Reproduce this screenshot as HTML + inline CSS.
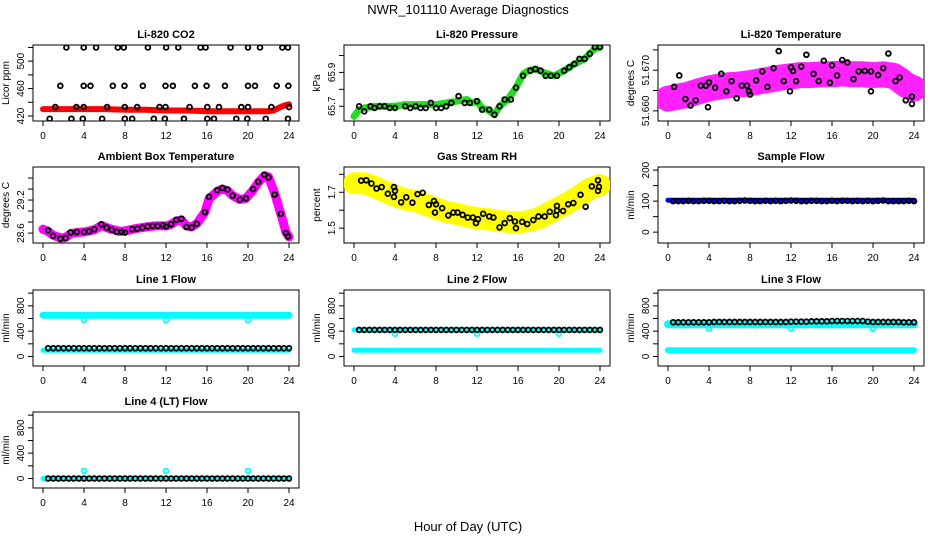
<!DOCTYPE html>
<html><head><meta charset="utf-8">
<style>
body{margin:0;background:#fff;}
svg{display:block;font-family:"Liberation Sans",Arial,sans-serif;}
</style></head>
<body>
<svg id="chart" width="936" height="540" viewBox="0 0 936 540" xmlns="http://www.w3.org/2000/svg">
<rect width="936" height="540" fill="#fff"/>
<text x="468" y="14" font-size="13" text-anchor="middle">NWR_101110  Average Diagnostics</text>
<text x="468" y="531" font-size="13" text-anchor="middle">Hour of Day (UTC)</text>
</svg>
<script>
// ---------- data ----------
const xTicks = [0,4,8,12,16,20,24];
const halfHours = [0.5,1,1.5,2,2.5,3,3.5,4,4.5,5,5.5,6,6.5,7,7.5,8,8.5,9,9.5,10,10.5,11,11.5,12,12.5,13,13.5,14,14.5,15,15.5,16,16.5,17,17.5,18,18.5,19,19.5,20,20.5,21,21.5,22,22.5,23,23.5,24];

// CO2
const co2Hours520 = [2.28,3.97,5.18,7.3,7.88,10.23,12.02,13.2,15.37,15.86,18.3,20.0,21.17,23.35,23.9];
const co2Hours464 = [1.69,3.97,4.63,6.81,7.95,9.74,11.95,12.67,14.82,15.96,17.75,20.0,20.68,22.8,23.94];
const co2Hours433 = [1.2,3.26,3.97,6.25,7.98,9.19,11.37,11.95,14.3,16.03,17.17,19.35,20.0,22.28,24.0];
const co2Hours416 = [0.65,2.77,3.88,5.77,7.98,8.7,10.81,11.89,13.75,16.03,16.68,18.86,19.93,21.73,23.9];
const co2Levels = [520,464,433,416];
const co2BandHours = [0,2,4,6,8,10,12,14,16,18,20,22,22.5,23,23.5,24];
const co2BandVals = [430,430,430,430,429,429,428,428,427,427,427,427,428,432,435,437];

// Pressure
const presHours = [0.5,1,1.6,2,2.5,3,3.5,4,5,5.5,6,6.5,7,7.5,8,8.5,9,9.5,10.2,10.8,11.3,12,12.5,13.2,13.7,14.2,14.7,15.3,15.8,16.5,17.2,17.7,18.2,18.7,19.2,19.8,20.5,21,21.5,22,22.5,23,23.5,24];
const presVals = [65.70,65.67,65.70,65.69,65.70,65.70,65.69,65.69,65.70,65.69,65.70,65.69,65.69,65.72,65.69,65.69,65.70,65.72,65.76,65.72,65.72,65.73,65.68,65.68,65.65,65.70,65.74,65.74,65.81,65.88,65.91,65.92,65.91,65.88,65.88,65.88,65.91,65.93,65.95,65.98,65.98,66.01,66.05,66.05];
const presBandHours = [0,0.5,1,2,3,4,5,6,7,8,9,10,11,11.5,12,12.5,13,13.7,14.2,15,15.8,16.5,17,17.7,18.5,19.5,20.5,21.5,22.5,23.5,24];
const presBandVals = [65.64,65.68,65.69,65.70,65.70,65.70,65.71,65.71,65.71,65.71,65.72,65.73,65.74,65.72,65.73,65.69,65.68,65.65,65.70,65.74,65.81,65.89,65.91,65.92,65.90,65.88,65.91,65.95,65.98,66.04,66.05];

// Li-820 temperature
const tempHours = [0.6,1.1,1.7,2.2,2.7,3.2,3.7,3.9,4,4.6,5.2,5.7,6.2,6.7,7.2,7.7,7.9,8,8.6,9.2,9.7,10.3,10.8,11.3,11.9,12,12.2,12.5,13,13.5,14.2,14.7,15.2,15.8,16,16.5,17,17.5,18.1,18.6,19.2,19.8,19.8,20.5,21,21.5,22.2,22.6,23.2,23.8,23.8];
const tempVals = [51.6659,51.6687,51.6629,51.6613,51.6626,51.6662,51.6662,51.6609,51.6670,51.6657,51.6691,51.6648,51.6673,51.6631,51.6662,51.6662,51.6648,51.6640,51.6675,51.6697,51.6659,51.6705,51.6747,51.6673,51.6648,51.6707,51.6698,51.6673,51.6709,51.6738,51.6691,51.6673,51.6723,51.6669,51.6712,51.6687,51.6725,51.6719,51.6678,51.6697,51.6698,51.6697,51.6648,51.6688,51.6705,51.6741,51.6673,51.6682,51.6626,51.6635,51.6617];
const tempBandHours = [0,1,2,3,4,5,6,7,8,9,10,11,12,13,14,15,16,17,18,19,20,21,22,22.5,23,23.5,24];
const tempBandVals = [51.6630,51.6635,51.6640,51.6648,51.6655,51.6660,51.6663,51.6665,51.6668,51.6673,51.6677,51.6682,51.6685,51.6688,51.6688,51.6690,51.6690,51.6692,51.6690,51.6690,51.6688,51.6690,51.6686,51.6678,51.6668,51.6660,51.6655];

// Ambient box temperature
const ambHours = [0.5,1,1.7,2.2,2.7,3.3,4,4.5,5,5.7,6.2,6.7,7.2,7.7,8,8.7,9.2,9.7,10.2,10.7,11.2,11.7,12,12.5,13,13.5,14,14.5,15,15.8,16.2,17,17.5,18,18.5,19.2,19.8,20.5,21,21.6,22,22.6,23.2,23.7,23.9];
const ambVals = [28.65,28.55,28.50,28.51,28.61,28.62,28.62,28.63,28.67,28.76,28.70,28.66,28.62,28.62,28.61,28.67,28.68,28.70,28.72,28.73,28.73,28.74,28.72,28.76,28.84,28.86,28.71,28.70,28.77,28.98,29.26,29.38,29.42,29.39,29.28,29.21,29.23,29.40,29.53,29.66,29.61,29.30,28.95,28.60,28.54];
const ambBandHours = [0,0.5,1,1.7,2.2,2.7,3.3,4,5,5.7,6.5,7.5,8,9,10,11,12,12.5,13,13.5,14,14.5,15,15.8,16.2,17,17.5,18,18.5,19.2,19.8,20.5,21,21.6,22,22.6,23.2,23.7,24];
const ambBandVals = [28.67,28.63,28.56,28.51,28.52,28.59,28.61,28.62,28.66,28.74,28.68,28.63,28.64,28.68,28.71,28.73,28.73,28.76,28.82,28.84,28.73,28.71,28.77,28.98,29.22,29.36,29.40,29.37,29.28,29.21,29.23,29.38,29.52,29.64,29.62,29.32,28.95,28.62,28.53];

// Gas stream RH
const rhHours = [0.7,1.2,1.7,2.2,2.7,3.3,3.9,3.9,4,4.6,5.1,5.7,6.2,6.7,7.3,7.8,7.9,8,8.6,9.2,9.7,10.1,10.6,11.1,11.6,11.9,12.1,12.6,13.2,13.6,14.2,14.7,15.2,15.7,15.8,16.4,16.9,17.5,18,18.6,19.1,19.8,19.7,19.8,20.4,20.9,21.4,22.1,22.6,23.2,23.8,23.8,23.9];
const rhVals = [1.765,1.767,1.749,1.721,1.729,1.692,1.674,1.729,1.708,1.644,1.672,1.642,1.690,1.697,1.629,1.651,1.587,1.633,1.611,1.571,1.587,1.587,1.574,1.559,1.559,1.528,1.550,1.580,1.565,1.559,1.504,1.528,1.556,1.537,1.500,1.535,1.523,1.545,1.565,1.565,1.591,1.624,1.572,1.598,1.596,1.633,1.640,1.686,1.619,1.733,1.767,1.708,1.730];
const rhBandHours = [0,1,2,3,4,5,6,7,8,9,10,11,12,13,14,15,16,17,18,19,20,21,22,23,24];
const rhBandVals = [1.750,1.750,1.730,1.705,1.680,1.660,1.650,1.630,1.610,1.590,1.580,1.565,1.555,1.550,1.540,1.535,1.530,1.540,1.555,1.585,1.615,1.645,1.680,1.720,1.740];

// Sample flow
const sampleBandHours = [0,24];
const sampleBandVals = [103,103];
const sampleVals = [100,100,100,101,100,100,101,101,100,100,101,100,100,101,102,101,100,100,101,100,101,100,101,102,101,100,100,101,101,100,100,101,100,101,101,100,101,100,101,100,101,102,100,100,100,100,101,100];

// Line flows
const flowBandHours = [0,24];
const l1HighVals = [650,650];
const l1LowVals = [100,100];
const l1Black = [130,130,130,130,130,130,130,130,130,130,130,130,130,130,130,130,130,130,130,130,130,130,130,130,130,130,130,130,130,130,130,130,130,130,130,130,130,130,130,130,130,130,130,130,130,130,130,130];
const l2MidVals = [420,420];
const l2LowVals = [100,100];
const l2Black = [420,420,420,420,420,420,420,420,420,420,420,420,420,420,420,420,420,420,420,420,420,420,420,420,420,420,420,420,420,420,420,420,420,420,420,420,420,420,420,420,420,420,420,420,420,420,420,420];
const l3MidVals = [510,510];
const l3LowVals = [100,100];
const l3Black = [540,540,540,540,540,540,540,540,545,545,545,545,545,545,545,545,545,545,545,545,545,545,545,550,550,550,550,555,555,555,555,560,560,560,560,560,560,560,550,545,545,545,545,545,545,540,540,540];
const l4BaseVals = [0,0];
const l4Black = [0,0,0,0,0,0,0,0,0,0,0,0,0,0,0,0,0,0,0,0,0,0,0,0,0,0,0,0,0,0,0,0,0,0,0,0,0,0,0,0,0,0,0,0,0,0,0,0];
const dipHours = [4,12,20];
const l1DipVals = [575,575,575];
const l2DipVals = [360,360,360];
const l3DipVals = [440,440,440];
const l4BumpVals = [120,120,120];

// ---------- drawing ----------
const NS = "http://www.w3.org/2000/svg";
const svg = document.getElementById("chart");
const colLeft = [33, 344, 658];
const rowTop = [45, 167, 290, 412];
const BW = 266, BH = 76;

function mk(tag, attrs, parent) {
  const e = document.createElementNS(NS, tag);
  for (const k in attrs) e.setAttribute(k, attrs[k]);
  (parent || svg).appendChild(e);
  return e;
}

function makePanel(col, row, title, ylab, ymin, ymax, yTicks, yLabels, fmt) {
  const L = colLeft[col], T = rowTop[row];
  const g = mk("g", {});
  
  
  const xs = h => L + 10 + h / 24 * (BW - 20);
  const ys = v => T + BH - (v - ymin) / (ymax - ymin) * BH;
  const t = mk("text", {x: L + BW / 2, y: T - 7, "font-size": 11, "font-weight": "bold", "text-anchor": "middle"}, g);
  t.textContent = title;
  
  
  const box = mk("rect", {x: L, y: T, width: BW, height: BH, fill: "none", stroke: "#000", "stroke-width": 1}, g);
  
  
  xTicks.forEach(h => {
    const tk = mk("line", {x1: xs(h), x2: xs(h), y1: T + BH, y2: T + BH + 5, stroke: "#000"}, g);
    
    
    const lb = mk("text", {x: xs(h), y: T + BH + 18, "font-size": 10, "text-anchor": "middle"}, g);
    lb.textContent = h;
    
    
  });
  yTicks.forEach(v => {
    const tk = mk("line", {x1: L - 5, x2: L, y1: ys(v), y2: ys(v), stroke: "#000"}, g);
    
    
  });
  yLabels.forEach(v => {
    const cx = L - 9, cy = ys(v);
    const lb = mk("text", {x: cx, y: cy, "font-size": 10, "text-anchor": "middle", transform: `rotate(-90 ${cx} ${cy})`}, g);
    lb.textContent = fmt(v);
    
    
  });
  const yx = L - 24, yy = T + BH / 2;
  const yl = mk("text", {x: yx, y: yy, "font-size": 10, "text-anchor": "middle", transform: `rotate(-90 ${yx} ${yy})`}, g);
  yl.textContent = ylab;
  
  
  const clipId = "clip" + col + row;
  const cp = mk("clipPath", {id: clipId}, g);
  mk("rect", {x: L, y: T, width: BW, height: BH}, cp);
  const plot = mk("g", {"clip-path": `url(#${clipId})`}, g);
  
  
  return {xs, ys, plot};
}

function band(p, hours, vals, color, width, name) {
  const pts = hours.map((h, i) => p.xs(h).toFixed(1) + "," + p.ys(vals[i]).toFixed(1)).join(" ");
  const pl = mk("polyline", {points: pts, fill: "none", stroke: color, "stroke-width": width, "stroke-linejoin": "round", "stroke-linecap": "round"}, p.plot);
  
  
}
function dots(p, hours, vals, color, name, r) {
  hours.forEach((h, i) => {
    const c = mk("circle", {cx: p.xs(h), cy: p.ys(vals[i]), r: r || 2.4, fill: "none", stroke: color, "stroke-width": 1.8}, p.plot);
    
    
  });
}
function dotsLevel(p, hours, level, color, name) {
  hours.forEach(h => {
    const c = mk("circle", {cx: p.xs(h), cy: p.ys(level), r: 2.4, fill: "none", stroke: color, "stroke-width": 1.8}, p.plot);
    
    
  });
}
const f0 = v => String(v);
const f1 = v => v.toFixed(1);
const f3 = v => v.toFixed(3);

// CO2
let p = makePanel(0, 0, "Li-820 CO2", "Licor ppm", 412.7, 523.6, [420,440,460,480,500,520], [420,460,500], f0);
band(p, co2BandHours, co2BandVals, "#ff0000", 6, "co2-band");
dotsLevel(p, co2Hours520, co2Levels[0], "#000", "co2-point");
dotsLevel(p, co2Hours464, co2Levels[1], "#000", "co2-point");
dotsLevel(p, co2Hours433, co2Levels[2], "#000", "co2-point");
dotsLevel(p, co2Hours416, co2Levels[3], "#000", "co2-point");

// Pressure
p = makePanel(1, 0, "Li-820 Pressure", "kPa", 65.613, 66.062, [65.7,65.8,65.9,66.0], [65.7,65.9], f1);
band(p, presBandHours, presBandVals, "#22dd22", 7, "pressure-band");
dots(p, presHours, presVals, "#000", "pressure-point");

// Li-820 temperature
p = makePanel(2, 0, "Li-820 Temperature", "degrees C", 51.6575, 51.6762, [51.660,51.665,51.670,51.675], [51.660,51.670], f3);
band(p, tempBandHours, tempBandVals, "#ff22ff", 26, "temperature-band");
dots(p, tempHours, tempVals, "#000", "temperature-point");

// Ambient
p = makePanel(0, 1, "Ambient Box Temperature", "degrees C", 28.42, 29.8, [28.6,28.8,29.0,29.2,29.4,29.6], [28.6,29.2], f1);
band(p, ambBandHours, ambBandVals, "#ff00ff", 9, "ambient-band");
dots(p, ambHours, ambVals, "#000", "ambient-point");

// RH
p = makePanel(1, 1, "Gas Stream RH", "percent", 1.417, 1.841, [1.5,1.6,1.7,1.8], [1.5,1.7], f1);
band(p, rhBandHours, rhBandVals, "#ffff00", 22, "rh-band");
dots(p, rhHours, rhVals, "#000", "rh-point");

// Sample flow
p = makePanel(2, 1, "Sample Flow", "ml/min", -35, 210, [0,50,100,150,200], [0,100,200], f0);
band(p, sampleBandHours, sampleBandVals, "#0000ff", 5, "sample-flow-band");
dots(p, halfHours, sampleVals, "#000", "sample-flow-point");

const flowTicks = [0,200,400,600,800,1000], flowLabels = [0,400,800];
// Line 1
p = makePanel(0, 2, "Line 1 Flow", "ml/min", -150, 1050, flowTicks, flowLabels, f0);
band(p, flowBandHours, l1HighVals, "#00ffff", 7, "line1-high-band");
band(p, flowBandHours, l1LowVals, "#00ffff", 5, "line1-low-band");
dots(p, dipHours, l1DipVals, "#00ffff", "line1-dip");
dots(p, halfHours, l1Black, "#000", "line1-point");
// Line 2
p = makePanel(1, 2, "Line 2 Flow", "ml/min", -150, 1050, flowTicks, flowLabels, f0);
band(p, flowBandHours, l2LowVals, "#00ffff", 5, "line2-low-band");
band(p, flowBandHours, l2MidVals, "#00ffff", 5, "line2-mid-band");
dots(p, dipHours, l2DipVals, "#00ffff", "line2-dip");
dots(p, halfHours, l2Black, "#000", "line2-point");
// Line 3
p = makePanel(2, 2, "Line 3 Flow", "ml/min", -150, 1050, flowTicks, flowLabels, f0);
band(p, flowBandHours, l3LowVals, "#00ffff", 6, "line3-low-band");
band(p, flowBandHours, l3MidVals, "#00ffff", 8, "line3-mid-band");
dots(p, dipHours, l3DipVals, "#00ffff", "line3-dip");
dots(p, halfHours, l3Black, "#000", "line3-point");
// Line 4
p = makePanel(0, 3, "Line 4 (LT) Flow", "ml/min", -150, 1050, flowTicks, flowLabels, f0);
band(p, flowBandHours, l4BaseVals, "#00ffff", 5, "line4-band");
dots(p, halfHours, l4Black, "#000", "line4-point");
dots(p, dipHours, l4BumpVals, "#00ffff", "line4-bump");
</script>
</body></html>
